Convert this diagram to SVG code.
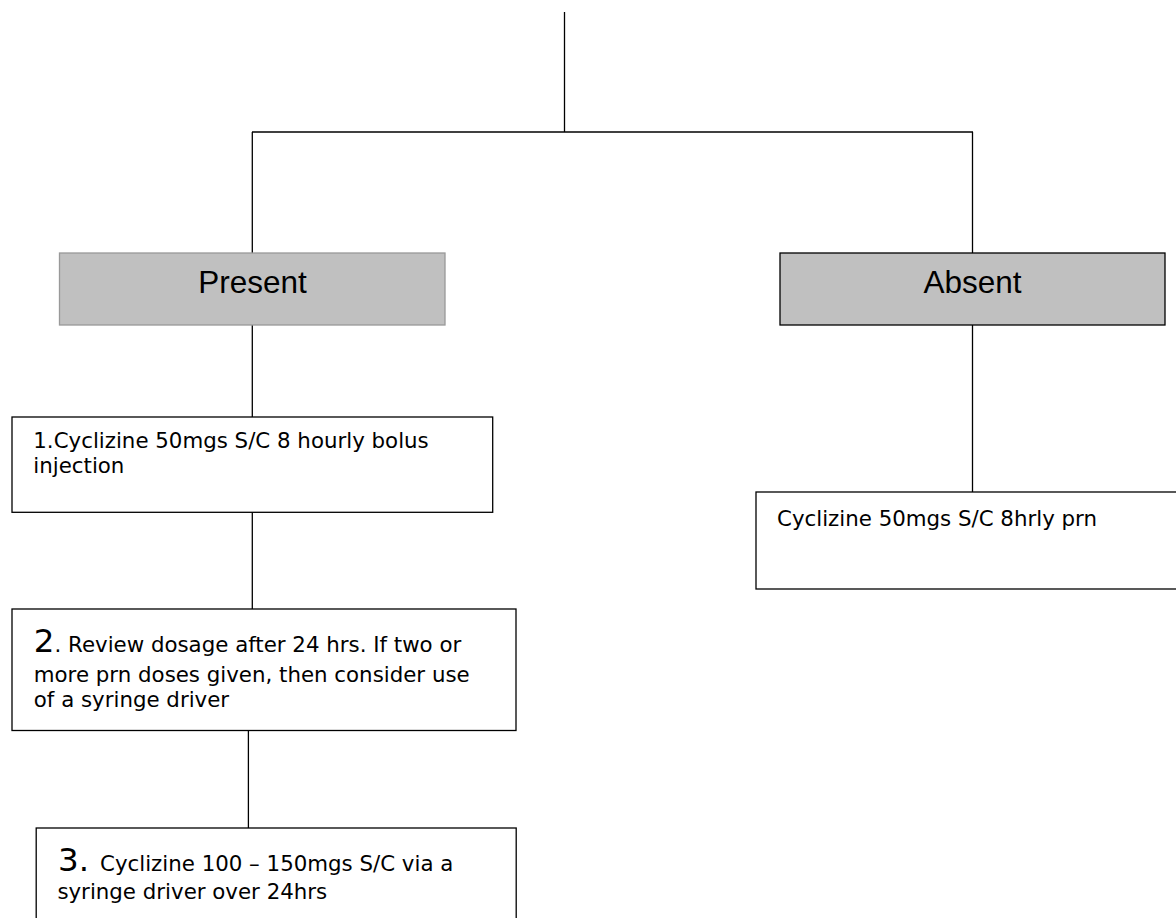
<svg xmlns="http://www.w3.org/2000/svg" width="1176" height="918" viewBox="0 0 1176 918">
<style>
.box{fill:#ffffff;stroke:#000000;stroke-width:1.3}
.gbox{fill:#c0c0c0;stroke:#000000;stroke-width:1.3}
.gbox2{fill:#c0c0c0;stroke:#999999;stroke-width:1.3}
.hd{font-family:"Liberation Sans",Arial,sans-serif;font-size:31.5px;fill:#000;text-anchor:middle}
.tx{font-family:"DejaVu Sans",Verdana,sans-serif;font-size:21.33px;fill:#000}
.big{font-size:32.5px}
.ln{stroke:#000;stroke-width:1.3;fill:none}
</style>
<rect width="1176" height="918" fill="#ffffff"/>
<g id="connectors">
<line class="ln" x1="564.5" y1="12" x2="564.5" y2="132"/>
<line class="ln" x1="252" y1="132" x2="973" y2="132"/>
<line class="ln" x1="252.3" y1="132" x2="252.3" y2="253"/>
<line class="ln" x1="972.5" y1="132" x2="972.5" y2="253"/>
<line class="ln" x1="252.3" y1="320" x2="252.3" y2="417"/>
<line class="ln" x1="252.3" y1="512" x2="252.3" y2="609"/>
<line class="ln" x1="248.4" y1="727" x2="248.4" y2="828"/>
<line class="ln" x1="972.5" y1="325" x2="972.5" y2="492"/>
</g>
<g id="present">
<rect class="gbox2" x="59.5" y="253" width="385.5" height="72"/>
<text class="hd" x="252.5" y="293.3">Present</text>
</g>
<g id="absent">
<rect class="gbox" x="780" y="253" width="385" height="72"/>
<text class="hd" x="972.5" y="293.3">Absent</text>
</g>
<g id="step1">
<rect class="box" x="12" y="417" width="480.7" height="95.3"/>
<text class="tx" x="33.3" y="448.3">1.Cyclizine 50mgs S/C 8 hourly bolus</text>
<text class="tx" x="33.3" y="473.3">injection</text>
</g>
<g id="step2">
<rect class="box" x="12" y="609" width="504" height="121.5"/>
<text class="tx" x="33.8" y="652"><tspan class="big">2</tspan>. Review dosage after 24 hrs. If two or</text>
<text class="tx" x="33.8" y="681.5">more prn doses given, then consider use</text>
<text class="tx" x="33.8" y="706.8">of a syringe driver</text>
</g>
<g id="step3">
<rect class="box" x="36.2" y="828" width="480" height="120"/>
<text class="tx" x="58" y="871"><tspan class="big">3.</tspan><tspan x="100">Cyclizine 100 – 150mgs S/C via a</tspan></text>
<text class="tx" x="57.4" y="898.7">syringe driver over 24hrs</text>
</g>
<g id="absent-action">
<rect class="box" x="756" y="492" width="440" height="97"/>
<text class="tx" x="777" y="525.7">Cyclizine 50mgs S/C 8hrly prn</text>
</g>
</svg>
